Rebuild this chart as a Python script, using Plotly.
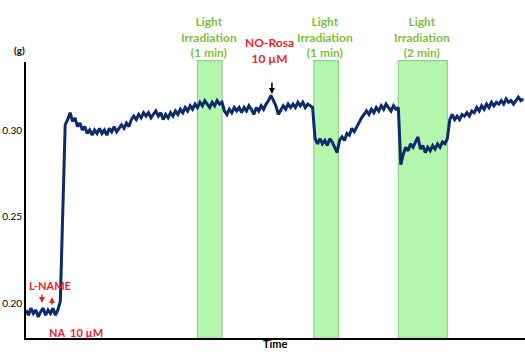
import numpy as np
import plotly.graph_objects as go

# tension trace (g), sampled every 0.1 min
force = [
    0.196, 0.193, 0.197, 0.194, 0.196, 0.192, 0.195, 0.197, 0.193, 0.196,
    0.194, 0.197, 0.193, 0.196, 0.201, 0.250, 0.303, 0.306, 0.310, 0.305,
    0.307, 0.302, 0.304, 0.300, 0.302, 0.298, 0.300, 0.297, 0.300, 0.298,
    0.301, 0.298, 0.300, 0.297, 0.301, 0.299, 0.302, 0.299, 0.301, 0.303,
    0.301, 0.304, 0.302, 0.306, 0.308, 0.306, 0.309, 0.307, 0.310, 0.308,
    0.310, 0.307, 0.309, 0.311, 0.308, 0.310, 0.306, 0.309, 0.307, 0.310,
    0.308, 0.311, 0.309, 0.312, 0.310, 0.313, 0.311, 0.314, 0.312, 0.315,
    0.313, 0.316, 0.314, 0.317, 0.315, 0.313, 0.316, 0.314, 0.317, 0.315,
    0.316, 0.311, 0.309, 0.312, 0.310, 0.313, 0.311, 0.313, 0.310, 0.313,
    0.311, 0.314, 0.312, 0.309, 0.313, 0.311, 0.314, 0.312, 0.315, 0.317,
    0.320, 0.317, 0.314, 0.309, 0.312, 0.314, 0.312, 0.315, 0.313, 0.315,
    0.313, 0.316, 0.314, 0.316, 0.313, 0.315, 0.314, 0.313, 0.295, 0.292,
    0.295, 0.292, 0.294, 0.291, 0.295, 0.293, 0.290, 0.287, 0.294, 0.296,
    0.294, 0.298, 0.297, 0.301, 0.299, 0.302, 0.304, 0.307, 0.309, 0.311,
    0.309, 0.312, 0.310, 0.313, 0.311, 0.314, 0.312, 0.315, 0.313, 0.311,
    0.314, 0.312, 0.313, 0.280, 0.286, 0.290, 0.288, 0.292, 0.290, 0.293,
    0.296, 0.289, 0.291, 0.287, 0.290, 0.288, 0.291, 0.289, 0.292, 0.290,
    0.293, 0.292, 0.295, 0.306, 0.309, 0.306, 0.308, 0.306, 0.309, 0.308,
    0.310, 0.308, 0.311, 0.310, 0.313, 0.311, 0.314, 0.312, 0.315, 0.313,
    0.316, 0.314, 0.316, 0.315, 0.317, 0.315, 0.318, 0.316, 0.317, 0.315,
    0.317, 0.319, 0.317, 0.318,
]
sample_step = 0.1
time = np.round(np.arange(len(force)) * sample_step, 2)

# light irradiation windows (min)
light_start = [7.0, 11.75, 15.2]
light_end = [8.0, 12.75, 17.2]
light_labels = ["Light<br>Irradiation<br>(1 min)", "Light<br>Irradiation<br>(1 min)",
                "Light<br>Irradiation<br>(2 min)"]

y_ticks = [0.20, 0.25, 0.30]
y_tick_text = ["0.20", "0.25", "0.30"]

FONT = "Lato, Open Sans, sans-serif"
RED = "#e5262b"
GREEN = "#7ec13c"

fig = go.Figure()

for s, e in zip(light_start, light_end):
    fig.add_shape(type="rect", xref="x", yref="paper", x0=s, x1=e, y0=0, y1=1.005,
                  fillcolor="#b6f7b0", line=dict(color="#8fd28a", width=1.2), layer="below")

fig.add_trace(go.Scatter(x=time, y=force, mode="lines",
                         line=dict(color="#0d2a6b", width=3), showlegend=False,
                         hoverinfo="skip"))

for s, e, lab in zip(light_start, light_end, light_labels):
    fig.add_annotation(x=(s + e) / 2 - 0.05, xref="x", y=1.09, yref="paper", text="<b>" + lab + "</b>",
                       showarrow=False, font=dict(family=FONT, size=12, color=GREEN),
                       yanchor="middle", align="center")

# NO-Rosa
fig.add_annotation(x=9.92, y=1.04, xref="x", yref="paper", text="<b>NO-Rosa<br>10 µM</b>",
                   showarrow=False, font=dict(family=FONT, size=12, color=RED),
                   yanchor="middle", align="center")
fig.add_annotation(x=10.04, y=0.3208, xref="x", yref="y", text="", showarrow=True,
                   ax=0, ay=-13, arrowhead=2, arrowsize=0.8, arrowwidth=1.5, arrowcolor="black")

# L-NAME
fig.add_annotation(x=0.04, y=0.2104, text="<b>L-NAME</b>", showarrow=False, xanchor="left",
                   font=dict(family=FONT, size=11, color=RED))
fig.add_annotation(x=0.65, y=0.2, text="", showarrow=True, ax=0, ay=-10,
                   arrowhead=2, arrowsize=0.8, arrowwidth=1.5, arrowcolor=RED)
# NA
fig.add_annotation(x=1.06, y=0.2035, text="", showarrow=True, ax=0, ay=9,
                   arrowhead=2, arrowsize=0.8, arrowwidth=1.5, arrowcolor=RED)
fig.add_annotation(x=1.27, y=0.1832, text="<b>NA</b>", showarrow=False,
                   font=dict(family=FONT, size=11, color=RED))
fig.add_annotation(x=2.45, y=0.1832, text="<b>10 µM</b>", showarrow=False,
                   font=dict(family=FONT, size=11, color=RED))

# axis titles
fig.add_annotation(x=-0.014, y=1.015, xref="paper", yref="paper", text="<b>(g)</b>",
                   showarrow=False, font=dict(family=FONT, size=10, color="black"),
                   xanchor="center", yanchor="bottom")
fig.add_annotation(x=0.50, y=-0.05, xref="paper", yref="paper", text="<b>Time</b>",
                   showarrow=False, font=dict(family=FONT, size=11, color="black"),
                   xanchor="center", yanchor="bottom")

fig.update_layout(
    width=525, height=352,
    margin=dict(l=26, r=0, t=62, b=14, autoexpand=False),
    paper_bgcolor="white", plot_bgcolor="white",
    xaxis=dict(range=[0, 20.37], showgrid=False, zeroline=False, showticklabels=False,
               ticks="", showline=True, linecolor="black", linewidth=2, automargin=False),
    yaxis=dict(range=[0.1798, 0.3393], showgrid=False, zeroline=False,
               tickvals=y_ticks, ticktext=y_tick_text, ticks="", ticklabelstandoff=0,
               tickfont=dict(family=FONT, size=10, color="black"), automargin=False,
               showline=True, linecolor="black", linewidth=2),
)

fig.write_html("out.html", config={"displayModeBar": False},
               post_script="document.body.style.margin='0';")
